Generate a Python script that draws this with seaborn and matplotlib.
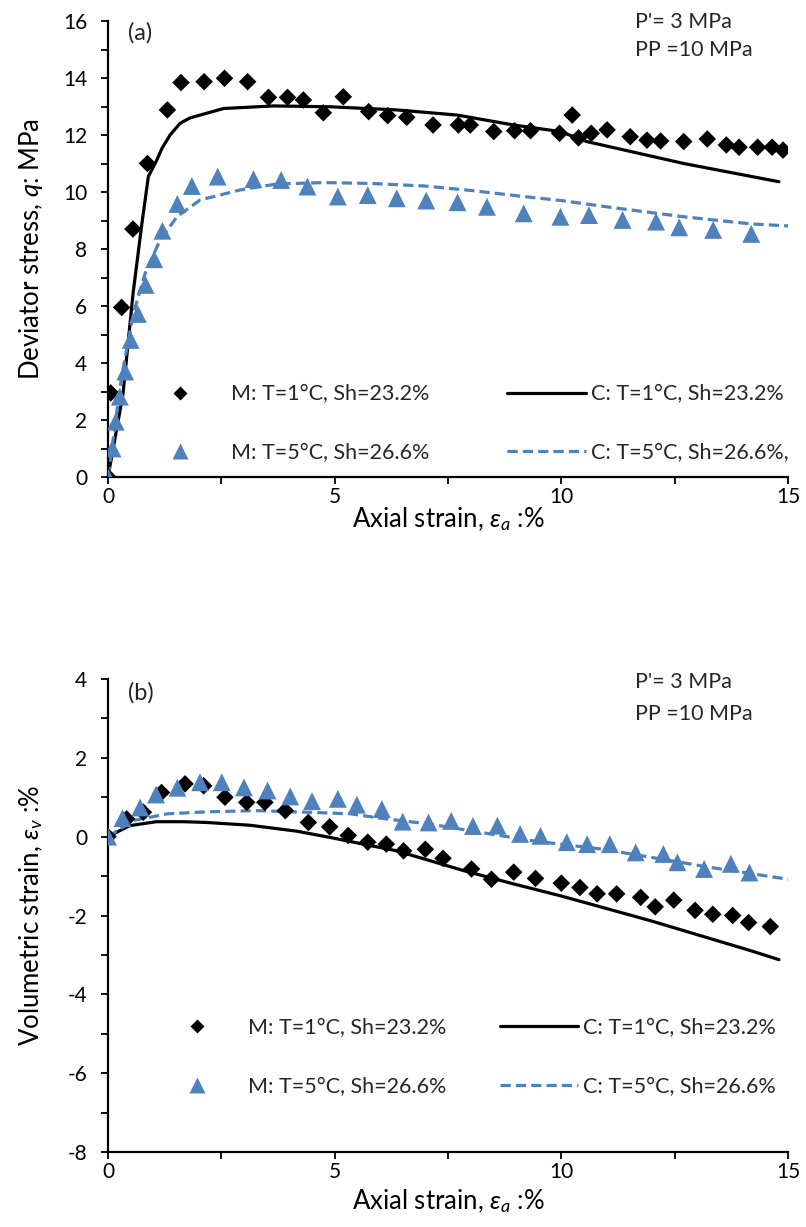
import numpy as np
import pandas as pd
import matplotlib
matplotlib.use("Agg")
import matplotlib.pyplot as plt
from matplotlib.lines import Line2D
from matplotlib.ticker import MultipleLocator
import seaborn as sns

# ---------------- data ----------------
# (a) deviator stress vs axial strain
a_m1_x = [0, 0.06, 0.30, 0.55, 0.87, 1.31, 1.61, 2.12, 2.57, 3.08, 3.54, 3.96, 4.31, 4.75, 5.19,
          5.75, 6.17, 6.59, 7.17, 7.73, 7.99, 8.51, 8.97, 9.32, 9.96, 10.24, 10.38, 10.66, 11.01,
          11.52, 11.89, 12.19, 12.70, 13.22, 13.64, 13.92, 14.33, 14.65, 14.89]
a_m1_y = [0, 2.95, 5.95, 8.7, 11.0, 12.88, 13.84, 13.87, 13.99, 13.87, 13.32, 13.32, 13.23, 12.78,
          13.34, 12.82, 12.68, 12.62, 12.35, 12.35, 12.35, 12.12, 12.15, 12.15, 12.06, 12.70, 11.9,
          12.06, 12.18, 11.94, 11.82, 11.79, 11.77, 11.86, 11.65, 11.57, 11.57, 11.57, 11.47]
a_m5_x = [0, 0.10, 0.17, 0.26, 0.38, 0.50, 0.66, 0.83, 1.02, 1.20, 1.53, 1.85, 2.42, 3.21, 3.82,
          4.40, 5.07, 5.73, 6.37, 7.02, 7.71, 8.36, 9.17, 9.98, 10.61, 11.35, 12.09, 12.60, 13.35, 14.19]
a_m5_y = [0, 1.0, 1.94, 2.82, 3.7, 4.81, 5.72, 6.74, 7.64, 8.64, 9.58, 10.21, 10.54, 10.45, 10.42,
          10.19, 9.84, 9.89, 9.78, 9.7, 9.64, 9.48, 9.25, 9.13, 9.19, 9.02, 8.96, 8.76, 8.67, 8.53]
a_c1_x = [0, 0.33, 0.55, 0.74, 0.89, 1.07, 1.19, 1.37, 1.59, 1.81, 2.55, 3.65, 4.9, 6.37, 7.7,
          8.95, 9.98, 10.56, 12.7, 14.8]
a_c1_y = [0, 2.9, 6.4, 8.8, 10.54, 11.1, 11.53, 12.0, 12.41, 12.6, 12.93, 13.02, 12.99, 12.88,
          12.70, 12.35, 12.12, 11.77, 11.0, 10.36]
a_c5_x = [0, 0.30, 0.56, 0.82, 1.15, 1.52, 2.03, 2.91, 3.72, 4.76, 5.8, 6.99, 8.03, 9.06, 10.0,
          11.24, 12.7, 14.19, 15.0]
a_c5_y = [0, 3.52, 5.74, 7.15, 8.32, 9.13, 9.72, 10.07, 10.28, 10.33, 10.3, 10.21, 10.05, 9.86,
          9.7, 9.43, 9.13, 8.88, 8.81]

# (b) volumetric strain vs axial strain
b_m1_x = [0, 0.41, 0.78, 1.18, 1.70, 2.11, 2.58, 3.06, 3.46, 3.91, 4.42, 4.89, 5.30, 5.73, 6.14,
          6.52, 7.0, 7.39, 8.02, 8.46, 8.95, 9.43, 10.0, 10.41, 10.79, 11.22, 11.75, 12.07, 12.48,
          12.95, 13.34, 13.78, 14.13, 14.61]
b_m1_y = [0, 0.45, 0.62, 1.12, 1.34, 1.29, 1.0, 0.87, 0.87, 0.66, 0.36, 0.25, 0.03, -0.14, -0.19,
          -0.36, -0.32, -0.55, -0.82, -1.08, -0.90, -1.06, -1.18, -1.29, -1.45, -1.45, -1.54,
          -1.78, -1.61, -1.87, -1.97, -2.0, -2.18, -2.28]
b_m5_x = [0, 0.32, 0.71, 1.06, 1.53, 2.03, 2.51, 3.0, 3.52, 4.02, 4.5, 5.07, 5.49, 6.04, 6.5,
          7.07, 7.57, 8.05, 8.59, 9.09, 9.54, 10.12, 10.57, 11.07, 11.64, 12.25, 12.56, 13.15,
          13.74, 14.15]
b_m5_y = [0, 0.47, 0.74, 1.07, 1.24, 1.38, 1.38, 1.25, 1.17, 1.02, 0.9, 0.96, 0.81, 0.70, 0.38,
          0.36, 0.40, 0.27, 0.28, 0.07, 0.02, -0.14, -0.19, -0.19, -0.40, -0.44, -0.65, -0.82,
          -0.69, -0.91]
b_c1_x = [0, 0.48, 1.07, 1.66, 2.18, 3.13, 4.16, 4.9, 6.37, 7.84, 8.95, 9.98, 11.96, 14.17, 14.8]
b_c1_y = [0, 0.28, 0.38, 0.38, 0.36, 0.29, 0.14, -0.02, -0.36, -0.86, -1.2, -1.5, -2.13, -2.89, -3.12]
b_c5_x = [0, 0.56, 1.31, 2.18, 3.28, 4.39, 5.35, 6.0, 7.1, 8.21, 9.4, 10.86, 11.96, 13.29, 15.0]
b_c5_y = [0, 0.41, 0.58, 0.63, 0.66, 0.62, 0.58, 0.47, 0.32, 0.11, -0.11, -0.31, -0.52, -0.78, -1.08]

labels_a = ["M: T=1°C, Sh=23.2%", "M: T=5°C, Sh=26.6%", "C: T=1°C, Sh=23.2%", "C: T=5°C, Sh=26.6%,"]
labels_b = ["M: T=1°C, Sh=23.2%", "M: T=5°C, Sh=26.6%", "C: T=1°C, Sh=23.2%", "C: T=5°C, Sh=26.6%"]
x_ticks = [0, 5, 10, 15]
ya_ticks = [0, 2, 4, 6, 8, 10, 12, 14, 16]
yb_ticks = [-8, -6, -4, -2, 0, 2, 4]

# ---------------- style ----------------
sns.set_theme(style="white")
FONT = "Lato"
plt.rcParams["font.family"] = [FONT, "DejaVu Sans"]
plt.rcParams["mathtext.fontset"] = "custom"
plt.rcParams["mathtext.rm"] = FONT
plt.rcParams["mathtext.it"] = FONT + ":italic"
plt.rcParams["axes.unicode_minus"] = False

BLUE = "#4F81BD"
BLACK = "#000000"

W, H = 806, 1227
fig = plt.figure(figsize=(W / 100, H / 100), dpi=100)
ax_a = fig.add_axes([108 / W, 1 - 477 / H, 680 / W, 456 / H])
ax_b = fig.add_axes([108 / W, 1 - 1152 / H, 680 / W, 473 / H])

LW = 2.3
MS_D = 80
MS_T = 165
TICK_FS = 15
TITLE_FS = 18.5
LEG_FS = 15.5
ANN_FS = 15.5


def draw(ax, m1x, m1y, m5x, m5y, c1x, c1y, c5x, c5y):
    sns.lineplot(x=c1x, y=c1y, ax=ax, color=BLACK, lw=LW, sort=False, estimator=None, zorder=2)
    l5 = sns.lineplot(x=c5x, y=c5y, ax=ax, color=BLUE, lw=LW, sort=False, estimator=None, zorder=2)
    l5.lines[-1].set_dashes((3.2, 1.6))
    sns.scatterplot(x=m1x, y=m1y, ax=ax, marker="D", s=MS_D, color=BLACK,
                    edgecolor="none", linewidth=0, zorder=3)
    sns.scatterplot(x=m5x, y=m5y, ax=ax, marker="^", s=MS_T, color=BLUE,
                    edgecolor="none", linewidth=0, zorder=4)


draw(ax_a, a_m1_x, a_m1_y, a_m5_x, a_m5_y, a_c1_x, a_c1_y, a_c5_x, a_c5_y)
draw(ax_b, b_m1_x, b_m1_y, b_m5_x, b_m5_y, b_c1_x, b_c1_y, b_c5_x, b_c5_y)

for ax, (y0, y1), yt, xlab_y in [(ax_a, (0, 16), ya_ticks, -0.062), (ax_b, (-8, 4), yb_ticks, -0.074)]:
    ax.set_xlim(0, 15)
    ax.set_ylim(y0, y1)
    ax.set_xticks(x_ticks)
    ax.set_yticks(yt)
    ax.xaxis.set_minor_locator(MultipleLocator(2.5))
    ax.yaxis.set_minor_locator(MultipleLocator(1))
    for s in ["top", "right"]:
        ax.spines[s].set_visible(False)
    for s in ["left", "bottom"]:
        ax.spines[s].set_color(BLACK)
        ax.spines[s].set_linewidth(1.6)
    ax.tick_params(axis="both", which="both", direction="out", length=5, width=1.3,
                   color=BLACK, labelsize=TICK_FS, labelcolor=BLACK)
    ax.tick_params(axis="x", which="both", bottom=True, pad=2)
    ax.tick_params(axis="y", which="both", left=True, pad=10)
    ax.set_xlabel(r"Axial strain, $\varepsilon_a$ :%", fontsize=TITLE_FS, color=BLACK)
    ax.xaxis.set_label_coords(0.5, xlab_y)
    ax.grid(False)
    ax.set_facecolor("white")
    ax.patch.set_alpha(0)

ax_a.set_ylabel(r"Deviator stress, $q$: MPa", fontsize=TITLE_FS, color=BLACK)
ax_b.set_ylabel(r"Volumetric strain, $\varepsilon_v$ :%", fontsize=TITLE_FS, color=BLACK)
ax_a.yaxis.set_label_coords(-0.093, 0.5)
ax_b.yaxis.set_label_coords(-0.093, 0.5)

# annotations
ax_a.text(0.029, 0.975, "(a)", transform=ax_a.transAxes, fontsize=17, va="center", ha="left")
ax_a.text(0.775, 0.998, "P'= 3 MPa", transform=ax_a.transAxes, fontsize=ANN_FS, va="center", ha="left")
ax_a.text(0.775, 0.937, "PP =10 MPa", transform=ax_a.transAxes, fontsize=ANN_FS, va="center", ha="left")
ax_b.text(0.029, 0.97, "(b)", transform=ax_b.transAxes, fontsize=17, va="center", ha="left")
ax_b.text(0.775, 0.993, "P'= 3 MPa", transform=ax_b.transAxes, fontsize=ANN_FS, va="center", ha="left")
ax_b.text(0.775, 0.925, "PP =10 MPa", transform=ax_b.transAxes, fontsize=ANN_FS, va="center", ha="left")


def legends(ax, labels, xm, xc, yc):
    hm = [Line2D([], [], ls="none", marker="D", ms=7.5, color=BLACK, mec="none"),
          Line2D([], [], ls="none", marker="^", ms=11, color=BLUE, mec="none")]
    hl1 = Line2D([], [], color=BLACK, lw=LW)
    hl2 = Line2D([], [], color=BLUE, lw=LW, dashes=(3.2, 1.6))
    kw = dict(frameon=False, fontsize=LEG_FS,
              labelspacing=1.8, borderpad=0, borderaxespad=0, loc="center left")
    lg1 = ax.legend(hm, labels[:2], bbox_to_anchor=(xm, yc), handlelength=2.8,
                    handletextpad=0.95, **kw)
    ax.add_artist(lg1)
    ax.legend([hl1, hl2], labels[2:], bbox_to_anchor=(xc, yc), handlelength=3.65,
              handletextpad=0.24, **kw)


legends(ax_a, labels_a, 0.062, 0.587, 0.117)
legends(ax_b, labels_b, 0.087, 0.576, 0.2)

fig.savefig("out.png", dpi=100, facecolor="white")
